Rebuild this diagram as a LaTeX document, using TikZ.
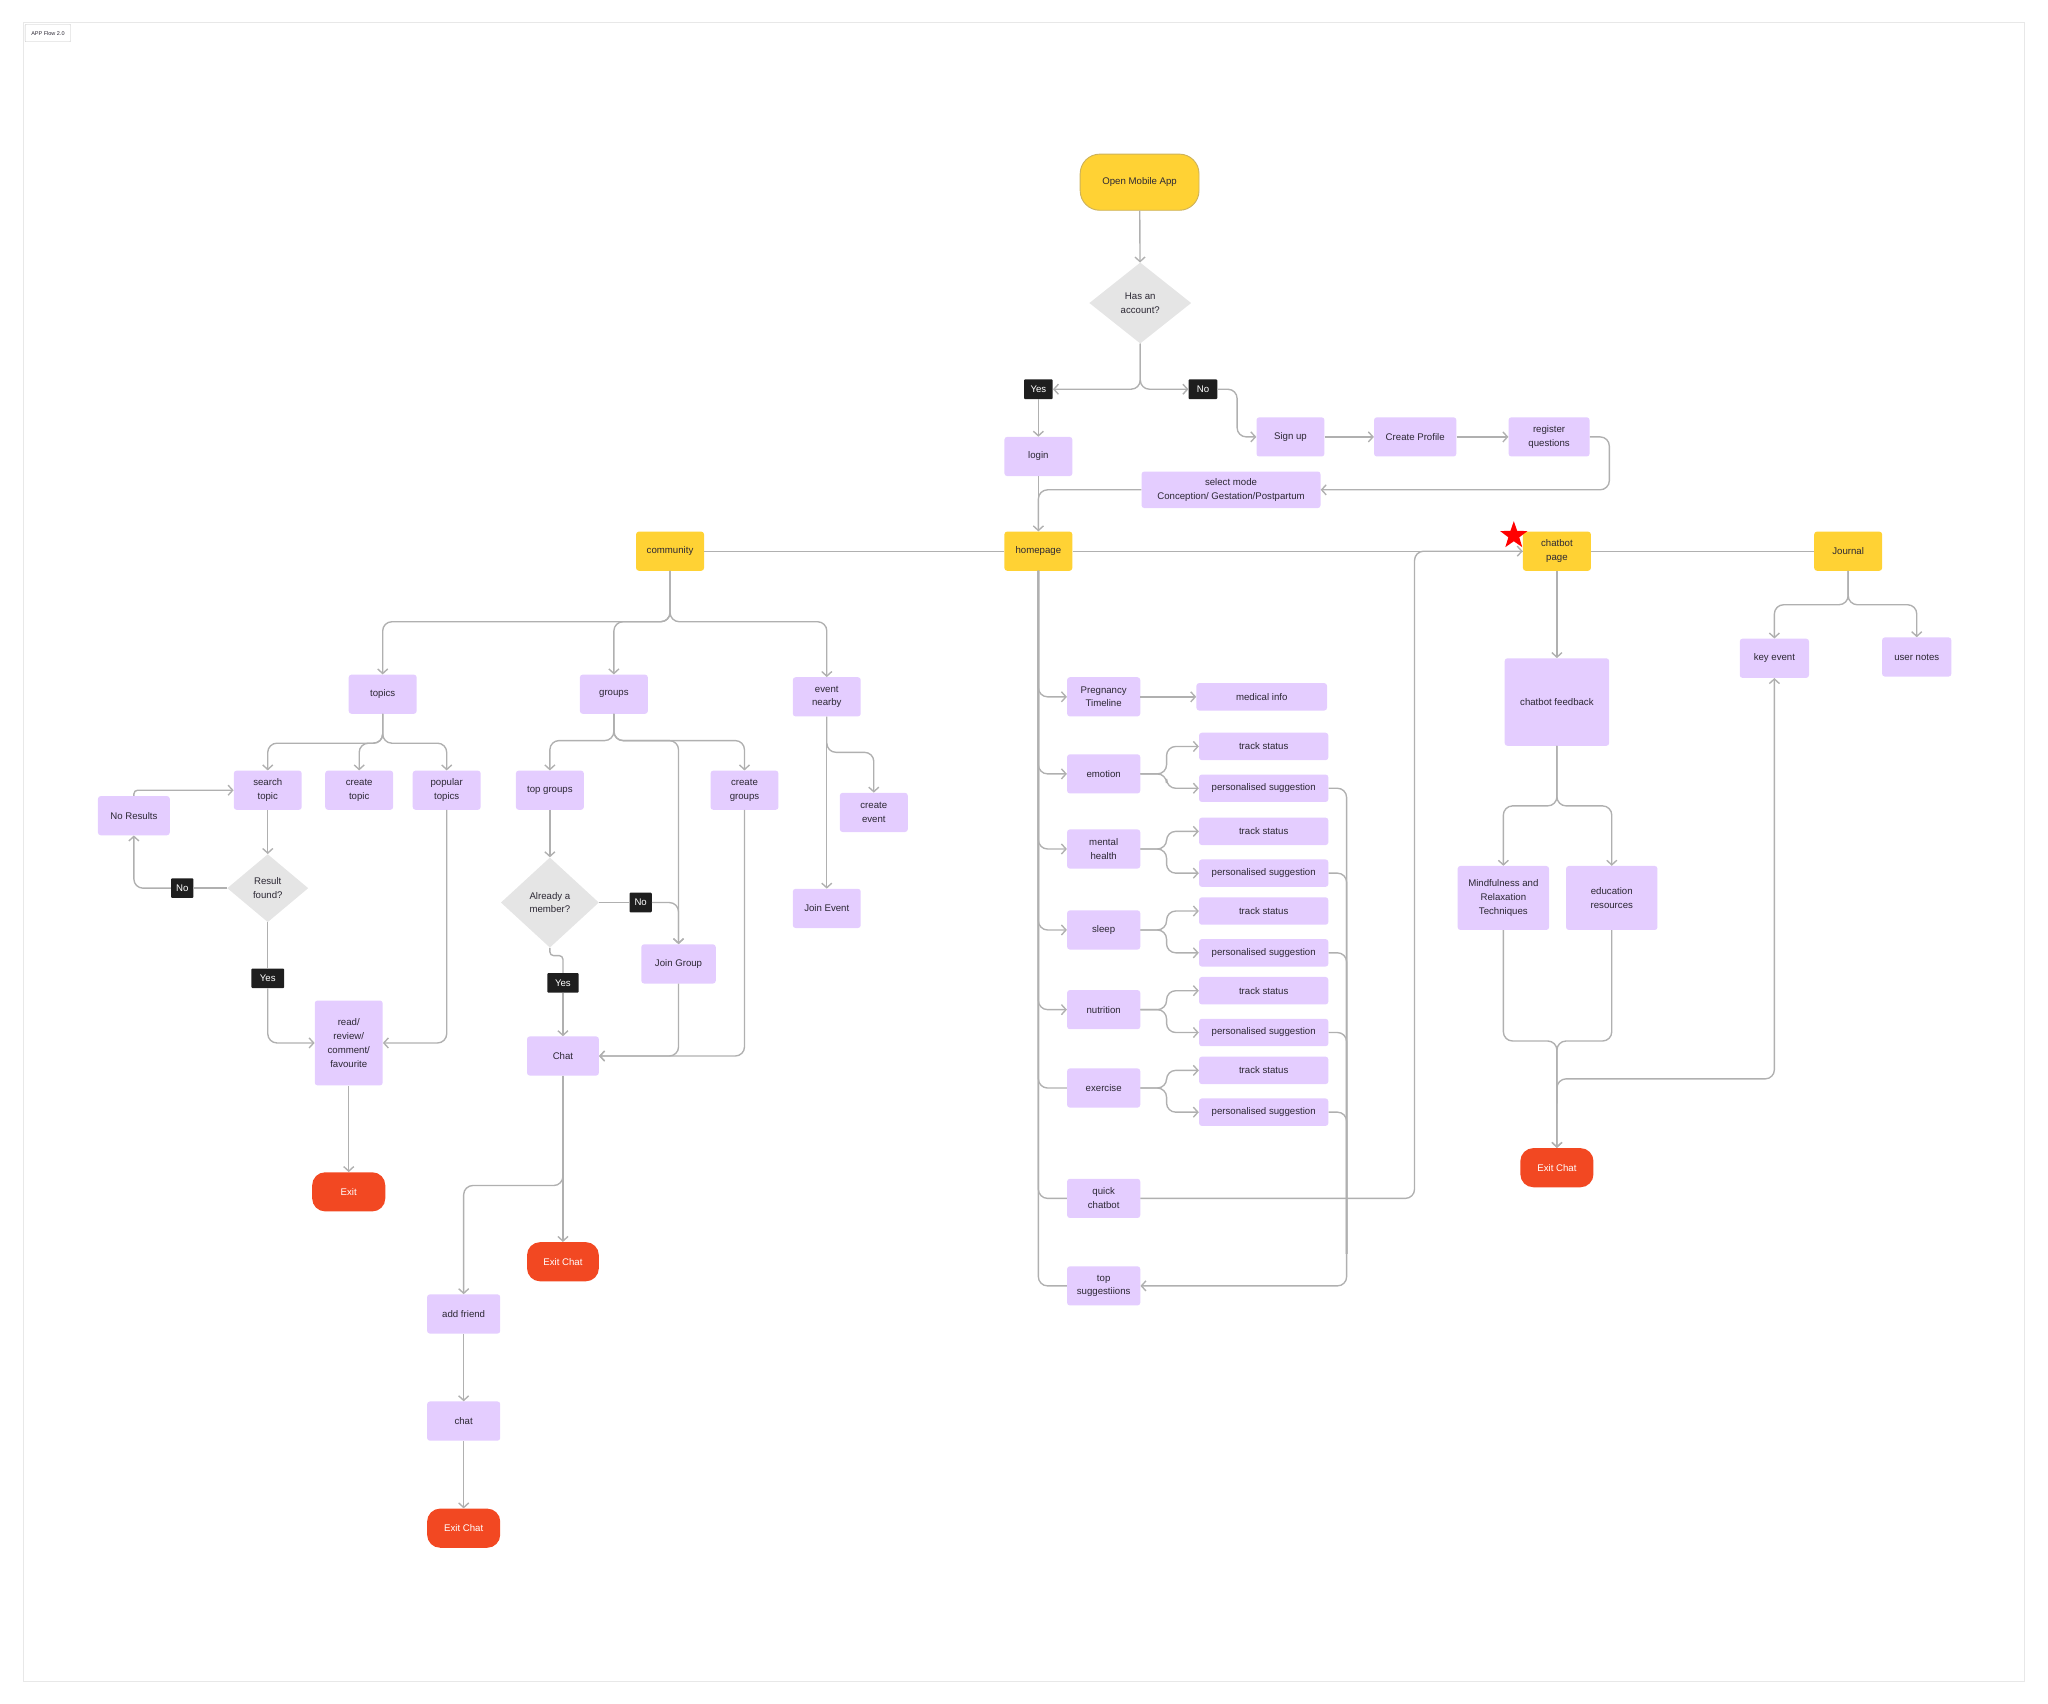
\documentclass[tikz,border=0pt]{standalone}
\usepackage{fontspec}
\setmainfont{Liberation Sans}
\usetikzlibrary{arrows.meta,shapes.geometric}

\definecolor{boxpurple}{RGB}{228,205,255}
\definecolor{boxyellow}{RGB}{255,210,52}
\definecolor{openedge}{RGB}{205,178,90}
\definecolor{exitred}{RGB}{242,72,34}
\definecolor{linegray}{RGB}{176,176,176}
\definecolor{decgray}{RGB}{229,229,229}
\definecolor{tagblack}{RGB}{30,30,30}
\definecolor{txt}{RGB}{44,40,52}
\definecolor{framegray}{RGB}{232,232,232}

\begin{document}
\begin{tikzpicture}[x=0.05cm, y=-0.05cm, font=\fontsize{10.5}{15}\selectfont,
  pbox/.style={rectangle, fill=boxpurple, rounded corners=3pt, text=txt, align=center,
    inner sep=0pt, minimum width=2.6cm, minimum height=1.5cm},
  ybox/.style={pbox, fill=boxyellow},
  exitbox/.style={pbox, fill=exitred, text=white, rounded corners=0.5cm, minimum width=2.8cm},
  dec/.style={diamond, fill=decgray, text=txt, align=center, inner sep=0pt},
  tag/.style={rectangle, fill=tagblack, text=white, rounded corners=1pt, inner sep=0pt,
    minimum width=1.1cm, minimum height=0.75cm},
  wide/.style={minimum width=4.95cm, minimum height=1.05cm},
  wire/.style={draw=linegray, line width=1.5pt, rounded corners=10pt},
  wirearr/.style={wire, -{Straight Barb[length=5pt,width=11pt]}}]
  % page frame in pixel units, y grows downwards
  \useasboundingbox (0,0) rectangle (1568,1304);
  \draw[framegray, line width=0.8pt] (18,17) rectangle (1550,1287);
  \node[draw=gray!45, fill=white, rounded corners=1pt, inner sep=0pt, minimum width=1.75cm,
    minimum height=0.67cm, text=txt, font=\fontsize{6}{7}\selectfont] (title) at (36.7,25.3) {APP Flow 2.0};

  \node[ybox, draw=openedge, line width=1pt, rounded corners=0.75cm, minimum width=4.55cm,
    minimum height=2.15cm] (open) at (872.5,139.5) {Open Mobile App};
  \node[dec, minimum width=3.9cm, minimum height=3.1cm] (acc) at (873,232) {Has an\\account?};
  \node[tag] (yes1) at (795,298) {Yes};
  \node[tag] (no1) at (921,298) {No};
  \node[pbox] (login) at (795,349.5) {login};
  \node[pbox] (signup) at (988,334.5) {Sign up};
  \node[pbox, minimum width=3.15cm] (profile) at (1083.5,334.5) {Create Profile};
  \node[pbox, minimum width=3.1cm] (reg) at (1186,334.5) {register\\questions};
  \node[pbox, minimum width=6.85cm, minimum height=1.4cm] (mode) at (942.5,375) {select mode\\Conception/ Gestation/Postpartum};

  \draw[wirearr] (open) -- (acc);
  \draw[wirearr] (acc.south) |- (yes1.east);
  \draw[wirearr] (acc.south) |- (no1.west);
  \draw[wirearr] (yes1) -- (login);
  \draw[wirearr] (no1.east) -- ++(15,0) |- (signup.west);
  \draw[wirearr] (signup) -- (profile);
  \draw[wirearr] (profile) -- (reg);
  \draw[wirearr] (reg.east) -- ++(15,0) |- (mode.east);

  \node[ybox] (home) at (795,422) {homepage};
  \node[ybox] (comm) at (513,422) {community};
  \node[ybox] (cbpage) at (1192,422) {chatbot\\page};
  \node[ybox] (journal) at (1415,422) {Journal};
  \draw[wire] (login) -- (home);
  \draw[wirearr] (mode.west) -| (home.north);
  \draw[wire] (comm) -- (home);
  \draw[wire] (home) -- (cbpage);
  \draw[wire] (cbpage) -- (journal);

  % community
  \coordinate (commfork) at (513,476);
  \node[pbox] (topics) at (293,531.5) {topics};
  \node[pbox] (groups) at (470,531.5) {groups};
  \node[pbox] (event) at (633,533.5) {event\\nearby};
  \foreach \n in {topics,groups,event} \draw[wirearr] (comm.south) -- (commfork) -| (\n.north);

  \coordinate (topfork) at (293,569);
  \node[pbox] (search) at (205,605) {search\\topic};
  \node[pbox] (ctopic) at (275,605) {create\\topic};
  \node[pbox] (popular) at (342,605) {popular\\topics};
  \foreach \n in {search,ctopic,popular} \draw[wirearr] (topics.south) -- (topfork) -| (\n.north);

  \node[pbox, minimum width=2.75cm] (nores) at (102.5,624.5) {No Results};
  \node[dec, minimum width=3.1cm, minimum height=2.6cm] (found) at (205,680) {Result\\found?};
  \node[tag, minimum width=0.85cm] (no2) at (139.5,680) {No};
  \node[tag, minimum width=1.25cm] (yes2) at (205,749) {Yes};
  \node[pbox, minimum height=3.25cm] (read) at (267,798.5) {read/\\review/\\comment/\\favourite};
  \node[exitbox] (exit1) at (267,912.5) {Exit};
  \draw[wirearr] (search) -- (found);
  \draw[wire] (found.west) -- (no2.east);
  \draw[wirearr] (no2.west) -| (nores.south);
  \draw[wirearr, rounded corners=4pt] (nores.north) |- (search.west);
  \draw[wire] (found) -- (yes2);
  \draw[wirearr] (yes2.south) |- (read.west);
  \draw[wirearr] (popular.south) |- (read.east);
  \draw[wirearr] (read) -- (exit1);

  \coordinate (grpfork) at (470,567);
  \node[pbox] (topgr) at (421,605) {top groups};
  \node[pbox] (cgroups) at (570,605) {create\\groups};
  \node[pbox, minimum width=2.85cm] (joingr) at (519.5,738) {Join Group};
  \foreach \n in {topgr,joingr,cgroups} \draw[wirearr] (groups.south) -- (grpfork) -| (\n.north);
  \node[dec, minimum width=3.75cm, minimum height=3.45cm] (member) at (421,691) {Already a\\member?};
  \node[tag, minimum width=0.85cm] (no3) at (490.5,691) {No};
  \node[tag, minimum width=1.2cm] (yes3) at (431,752.5) {Yes};
  \node[pbox, minimum width=2.75cm] (chat) at (431,808.5) {Chat};
  \draw[wirearr] (topgr) -- (member);
  \draw[wire] (member.east) -- (no3.west);
  \draw[wirearr] (no3.east) -| (joingr.north);
  \draw[wire, rounded corners=4pt] (member.south) -- ++(0,6) -| (yes3.north);
  \draw[wirearr] (yes3) -- (chat);
  \draw[wirearr] (joingr.south) |- (chat.east);
  \draw[wirearr] (cgroups.south) |- (chat.east);

  \node[exitbox, minimum width=2.75cm] (exit2) at (431,966) {Exit Chat};
  \node[pbox, minimum width=2.8cm] (addf) at (355,1006) {add friend};
  \node[pbox, minimum width=2.8cm] (chat2) at (355,1088) {chat};
  \node[exitbox] (exit3) at (355,1170) {Exit Chat};
  \draw[wirearr] (chat) -- (exit2);
  \draw[wirearr] (chat.south) -- ++(0,84) -| (addf.north);
  \draw[wirearr] (addf) -- (chat2);
  \draw[wirearr] (chat2) -- (exit3);

  \coordinate (evfork) at (633,576);
  \node[pbox] (cevent) at (669,622) {create\\event};
  \node[pbox] (joinev) at (633,695.5) {Join Event};
  \draw[wirearr] (event.south) -- (evfork) -| (cevent.north);
  \draw[wirearr] (event) -- (joinev);

  % homepage column
  \node[pbox, minimum width=2.8cm] (preg) at (845,533.5) {Pregnancy\\Timeline};
  \node[pbox, minimum width=2.8cm] (emo) at (845,592.5) {emotion};
  \node[pbox, minimum width=2.8cm] (mental) at (845,650) {mental\\health};
  \node[pbox, minimum width=2.8cm] (sleep) at (845,712) {sleep};
  \node[pbox, minimum width=2.8cm] (nutri) at (845,773) {nutrition};
  \node[pbox, minimum width=2.8cm] (exer) at (845,833) {exercise};
  \node[pbox, minimum width=2.8cm] (qchat) at (845,917.5) {quick\\chatbot};
  \node[pbox, minimum width=2.8cm] (topsug) at (845,984.5) {top\\suggestiions};
  \node[pbox, minimum width=5cm, minimum height=1.05cm] (medinfo) at (966,533.5) {medical info};
  \foreach \n in {preg,emo,mental,sleep,nutri} \draw[wirearr] (home.south) |- (\n.west);
  \foreach \n in {exer,qchat,topsug} \draw[wire] (home.south) |- (\n.west);
  \draw[wirearr] (preg) -- (medinfo);

  \coordinate (sugbend) at (1031,960);
  \foreach \i/\cat/\ty/\py in {1/emo/571.5/603.5, 2/mental/636.5/668.5, 3/sleep/697.5/729.5,
      4/nutri/758.5/790.5, 5/exer/819.5/851.5}{
    \node[pbox, wide] (ts\i) at (967.5,\ty) {track status};
    \node[pbox, wide] (ps\i) at (967.5,\py) {personalised suggestion};
    \draw[wirearr] (\cat.east) -- ++(20,0) |- (ts\i.west);
    \draw[wirearr] (\cat.east) -- ++(20,0) |- (ps\i.west);
    \draw[wire] (ps\i.east) -| (sugbend);
  }
  \draw[wirearr] (sugbend) |- (topsug.east);
  \coordinate (qcturn) at (1083,422);
  \draw[wirearr] (qchat.east) -| (qcturn) -- (cbpage.west);
  \node[star, star points=5, star point ratio=2.5, fill=red, inner sep=0pt, minimum size=1.1cm] (star) at (1159,410) {};

  % chatbot and journal
  \node[pbox, minimum width=2.65cm] (key) at (1358.5,504) {key event};
  \node[pbox, minimum width=2.65cm] (notes) at (1467.5,503) {user notes};
  \coordinate (jfork) at (1415,463);
  \foreach \n in {key,notes} \draw[wirearr] (journal.south) -- (jfork) -| (\n.north);

  \node[pbox, minimum width=4cm, minimum height=3.35cm] (fb) at (1192,537.5) {chatbot feedback};
  \node[pbox, minimum width=3.5cm, minimum height=2.45cm] (mind) at (1151,687.5) {Mindfulness and\\Relaxation\\Techniques};
  \node[pbox, minimum width=3.5cm, minimum height=2.45cm] (edu) at (1234,687.5) {education\\resources};
  \node[exitbox] (exit4) at (1192,894) {Exit Chat};
  \coordinate (fbfork) at (1192,617);
  \coordinate (fbjoin) at (1192,797);
  \coordinate (keyfork) at (1192,845);
  \draw[wirearr] (cbpage) -- (fb);
  \foreach \n in {mind,edu} \draw[wirearr] (fb.south) -- (fbfork) -| (\n.north);
  \foreach \n in {mind,edu} \draw[wirearr] (\n.south) |- (fbjoin) -- (exit4.north);
  \draw[wirearr] (keyfork) -- ++(0,-19) -| (key.south);
\end{tikzpicture}
\end{document}
